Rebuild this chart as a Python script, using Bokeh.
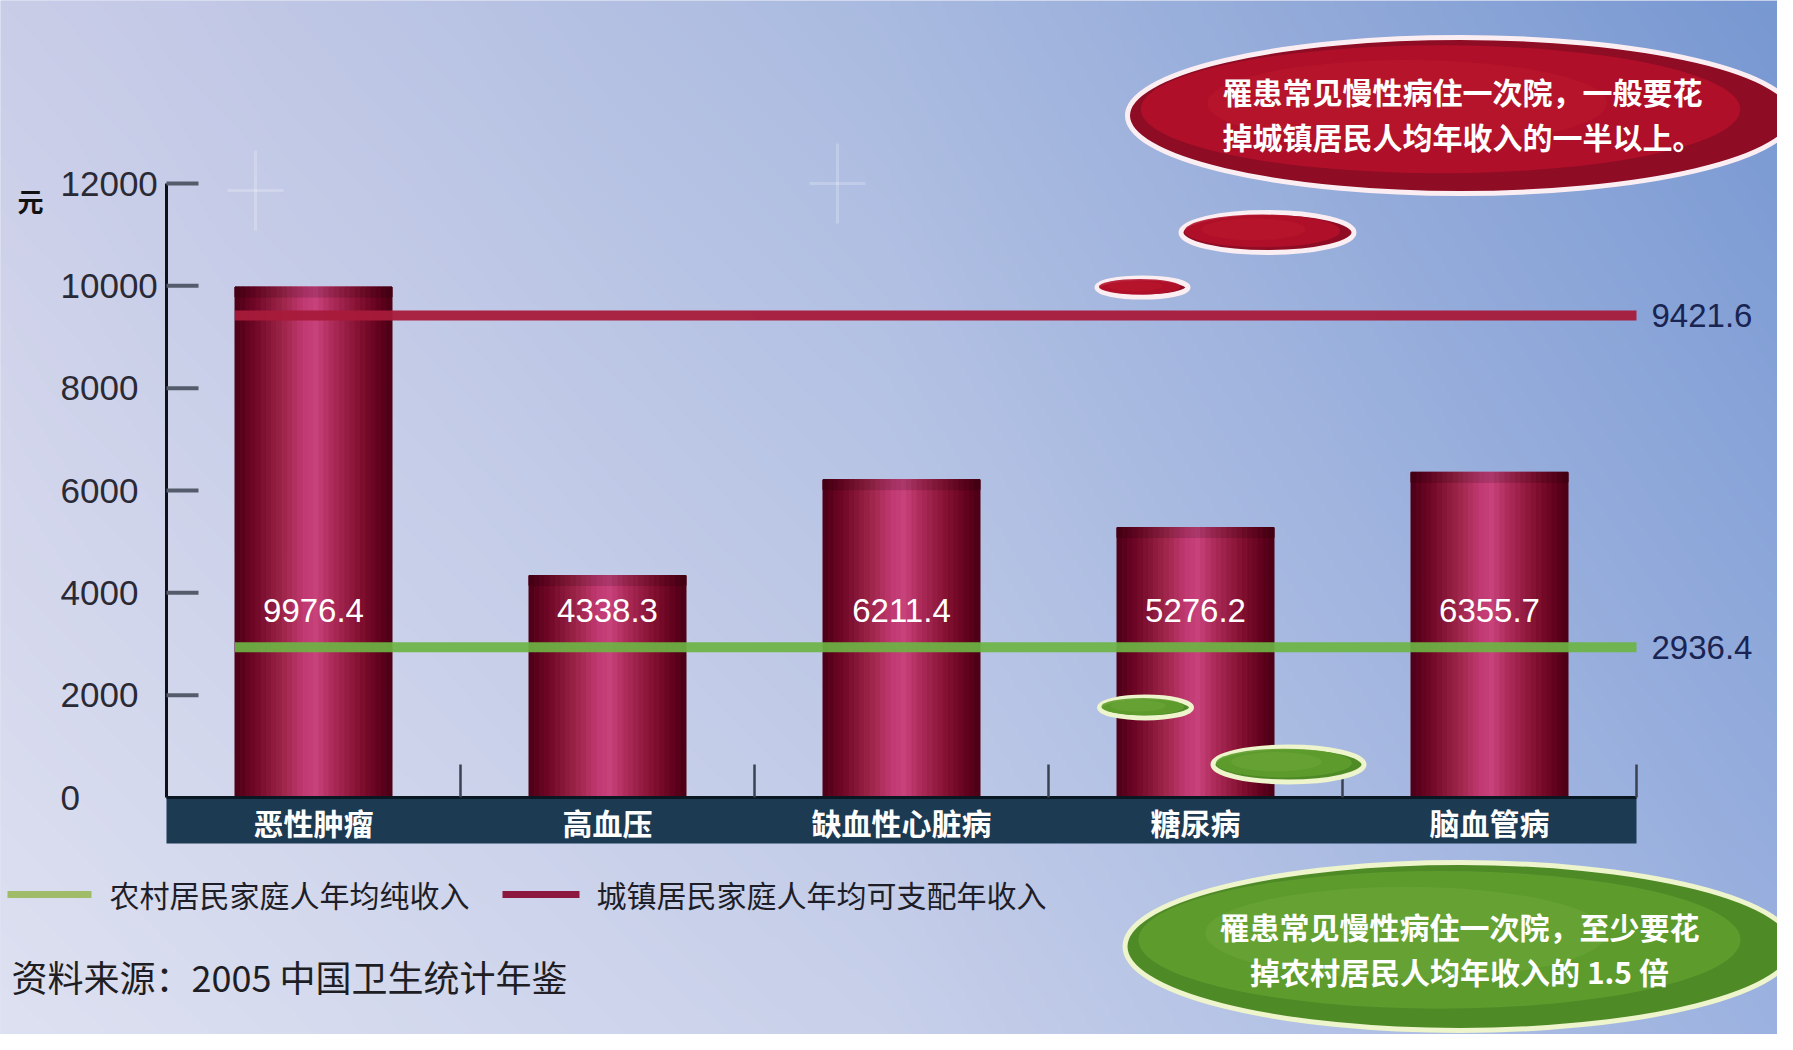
import numpy as np
from bokeh.plotting import figure
from bokeh.models import Range1d
from bokeh.core.properties import value
from bokeh.embed import file_html
from bokeh.resources import INLINE

# ---------------- data ----------------
categories = ["恶性肿瘤", "高血压", "缺血性心脏病", "糖尿病", "脑血管病"]
hospital_cost = [9976.4, 4338.3, 6211.4, 5276.2, 6355.7]
urban_income = 9421.6
rural_income = 2936.4
y_ticks = [0, 2000, 4000, 6000, 8000, 10000, 12000]
y_tick_labels = ["0", "2000", "4000", "6000", "8000", "10000", "12000"]
unit_label = "元"
legend_labels = ["农村居民家庭人年均纯收入", "城镇居民家庭人年均可支配年收入"]
source_note = "资料来源：2005 中国卫生统计年鉴"
callout_urban = ["罹患常见慢性病住一次院，一般要花", "掉城镇居民人均年收入的一半以上。"]
callout_rural = ["罹患常见慢性病住一次院，至少要花", "掉农村居民人均年收入的 1.5 倍"]

# ---------------- layout ----------------
W, H = 1777, 1034
OFF = 0
AX_X = 166.0          # screen x of the value axis
SLOT = 294.0          # px per category slot
Y0 = 797.0            # screen y of value 0
PPU = (797.0 - 183.0) / 12000.0   # px per unit
BW = 157.0 / SLOT     # bar width in slot units

def fx(px):
    return (px - AX_X) / SLOT - 0.5

def fy(py):
    return (Y0 - py) / PPU

xr = Range1d(fx(OFF), fx(OFF + W))
yr = Range1d(fy(OFF + H), fy(OFF))

p = figure(width=W, height=H, x_range=xr, y_range=yr, output_backend="svg",
           toolbar_location=None, x_axis_type=None, y_axis_type=None,
           min_border=0, outline_line_color=None)
p.background_fill_color = "#c0c8e6"
p.border_fill_color = "#c0c8e6"

CJK = value("Noto Sans CJK SC")
LAT = value("Liberation Sans")

# ---------------- background gradient ----------------
gh, gw = 259, 445
t = np.linspace(0, 1, gw)[None, :, None]
s = np.linspace(1, 0, gh)[:, None, None]   # fraction from top (row 0 = bottom)
top_cols = np.array([(0xca, 0xcd, 0xe8), (0xa9, 0xba, 0xe0), (0x78, 0x98, 0xd2)], float)
bot_cols = np.array([(0xde, 0xe1, 0xf1), (0xc8, 0xd0, 0xea), (0x9c, 0xb2, 0xe0)], float)

def interp3(cols, tt):
    a = np.clip(tt * 2, 0, 1)
    b = np.clip(tt * 2 - 1, 0, 1)
    return np.where(tt <= 0.5, cols[0] * (1 - a) + cols[1] * a, cols[1] * (1 - b) + cols[2] * b)

rgb = interp3(top_cols, t) * (1 - s) + interp3(bot_cols, t) * s
img = np.empty((gh, gw), dtype=np.uint32)
view = img.view(dtype=np.uint8).reshape((gh, gw, 4))
view[..., 0] = rgb[..., 0].astype(np.uint8)
view[..., 1] = rgb[..., 1].astype(np.uint8)
view[..., 2] = rgb[..., 2].astype(np.uint8)
view[..., 3] = 255
p.image_rgba(image=[img], x=xr.start, y=yr.start, dw=xr.end - xr.start, dh=yr.end - yr.start)

# faint sparkles
for (sx, sy) in [(255, 190), (837, 183)]:
    p.segment(x0=[fx(sx)], y0=[fy(sy - 40)], x1=[fx(sx)], y1=[fy(sy + 40)],
              line_color="white", line_alpha=0.22, line_width=3)
    p.segment(x0=[fx(sx - 28)], y0=[fy(sy)], x1=[fx(sx + 28)], y1=[fy(sy)],
              line_color="white", line_alpha=0.22, line_width=3)

# ---------------- value axis (drawn with glyphs) ----------------
p.segment(x0=[-0.5], y0=[0], x1=[-0.5], y1=[max(y_ticks)], line_color="#101018", line_width=3)
tick_vals = [v for v in y_ticks if v > 0]
p.segment(x0=[-0.5] * len(tick_vals), y0=tick_vals,
          x1=[-0.5 + 32 / SLOT] * len(tick_vals), y1=tick_vals,
          line_color="#545c6c", line_width=4)
p.text(x=[fx(60)] * len(y_ticks), y=y_ticks, text=y_tick_labels,
       text_font=LAT, text_font_size="35px", text_color="#2a2a36",
       text_align="left", text_baseline="middle")
p.text(x=[fx(30)], y=[fy(200)], text=[unit_label], text_font=CJK,
       text_font_size="26px", text_font_style="bold", text_color="#111111",
       text_align="center", text_baseline="middle")

# ---------------- bars (cylinder shading via strips) ----------------
stops = [(0.0, (0x4c, 0x00, 0x16)), (0.12, (0x6e, 0x06, 0x26)), (0.30, (0x9c, 0x24, 0x48)),
         (0.45, (0xc2, 0x3a, 0x74)), (0.52, (0xc8, 0x42, 0x7c)), (0.62, (0xae, 0x2c, 0x5a)),
         (0.80, (0x82, 0x10, 0x30)), (0.92, (0x62, 0x02, 0x1e)), (1.0, (0x4a, 0x00, 0x14))]

def prof(u, k=1.0):
    for (u0, c0), (u1, c1) in zip(stops[:-1], stops[1:]):
        if u0 <= u <= u1:
            f = (u - u0) / (u1 - u0)
            c = [int(min(255, (a + (b - a) * f) * k)) for a, b in zip(c0, c1)]
            return "#%02x%02x%02x" % tuple(c)
    return "#%02x%02x%02x" % stops[-1][1]

N = 30
sx_, st_, sc_, cc_ = [], [], [], []
for i, v in enumerate(hospital_cost):
    for k in range(N):
        u = (k + 0.5) / N
        sx_.append(i - BW / 2 + u * BW)
        st_.append(v)
        sc_.append(prof(u))
        cc_.append(prof(u, 0.86))
sw = BW / N
p.vbar(x=sx_, top=st_, bottom=0, width=sw, fill_color=sc_, line_color=sc_, line_width=1)
CAP = 10 / PPU
p.vbar(x=sx_, top=st_, bottom=[v - CAP for v in st_], width=sw,
       fill_color=cc_, line_color=cc_, line_width=1)

# ---------------- category band ----------------
n = len(categories)
p.quad(left=[-0.5], right=[n - 0.5], bottom=[fy(843)], top=[0],
       fill_color="#1c3a52", line_color=None)
p.segment(x0=[-0.5], y0=[0], x1=[n - 0.5], y1=[0], line_color="#0a1824", line_width=3)
sep = [i + 0.5 for i in range(n)]
p.segment(x0=sep, y0=[0] * n, x1=sep, y1=[33 / PPU] * n, line_color="#3a4252", line_width=2.5)
p.text(x=list(range(n)), y=[fy(821)] * n, text=categories, text_font=CJK,
       text_font_size="30px", text_font_style="bold", text_color="white",
       text_align="center", text_baseline="middle")

# ---------------- income lines ----------------
p.segment(x0=[-BW / 2], y0=[urban_income], x1=[n - 0.5], y1=[urban_income],
          line_color="#a81a3a", line_width=10, line_alpha=0.95)
p.segment(x0=[-BW / 2], y0=[rural_income], x1=[n - 0.5], y1=[rural_income],
          line_color="#6cb444", line_width=10, line_alpha=0.92)
p.text(x=[n - 0.5 + 15 / SLOT] * 2, y=[urban_income, rural_income],
       text=["%.1f" % urban_income, "%.1f" % rural_income], text_font=LAT,
       text_font_size="33px", text_color="#1a2452", text_align="left", text_baseline="middle")

# value labels inside bars
p.text(x=list(range(n)), y=[rural_income + 37 / PPU] * n,
       text=["%.1f" % v for v in hospital_cost], text_font=LAT,
       text_font_size="33px", text_color="white", text_align="center", text_baseline="middle")

# ---------------- bubbles ----------------
def bubble(cx, cy, w, h, base, light, dark, rim):
    p.ellipse(x=[fx(cx)], y=[fy(cy)], width=[w], height=[h], width_units="screen",
              height_units="screen", fill_color=dark, line_color=rim, line_width=5)
    p.ellipse(x=[fx(cx - w * 0.03)], y=[fy(cy - h * 0.04)], width=[w * 0.9], height=[h * 0.82],
              width_units="screen", height_units="screen", fill_color=base, line_color=None,
              fill_alpha=0.9)
    p.ellipse(x=[fx(cx - w * 0.08)], y=[fy(cy - h * 0.08)], width=[w * 0.6], height=[h * 0.55],
              width_units="screen", height_units="screen", fill_color=light, line_color=None,
              fill_alpha=0.3)

RED = ("#b2102a", "#c8202f", "#8e0c24", "#fbeef2")
GRN = ("#5e9c2e", "#7cb244", "#4e8a26", "#eef4cc")
bubble(1460, 115, 666, 156, *RED)
bubble(1267, 232, 173, 40, *RED)
bubble(1142, 287, 91, 19, *RED)
bubble(1459, 946, 669, 168, *GRN)
bubble(1145, 707, 92, 21, *GRN)
bubble(1288, 764, 151, 35, *GRN)

p.text(x=[fx(1462)] * 2, y=[fy(90), fy(135)], text=callout_urban, text_font=CJK,
       text_font_size="30px", text_font_style="bold", text_color="white",
       text_align="center", text_baseline="middle")
p.text(x=[fx(1459)] * 2, y=[fy(925), fy(970)], text=callout_rural, text_font=CJK,
       text_font_size="30px", text_font_style="bold", text_color="white",
       text_align="center", text_baseline="middle")

# ---------------- legend & source ----------------
p.segment(x0=[fx(7), fx(502)], y0=[fy(894)] * 2, x1=[fx(91), fx(579)], y1=[fy(894)] * 2,
          line_color=["#a0bc68", "#8c1840"], line_width=7)
p.text(x=[fx(109), fx(596)], y=[fy(893)] * 2, text=legend_labels, text_font=CJK,
       text_font_size="30px", text_color="#1e1e28", text_align="left", text_baseline="middle")
p.text(x=[fx(11)], y=[fy(975)], text=[source_note], text_font=CJK,
       text_font_size="36px", text_color="#1e1e24", text_align="left", text_baseline="middle")

open("out.html", "w").write(file_html(p, INLINE))
